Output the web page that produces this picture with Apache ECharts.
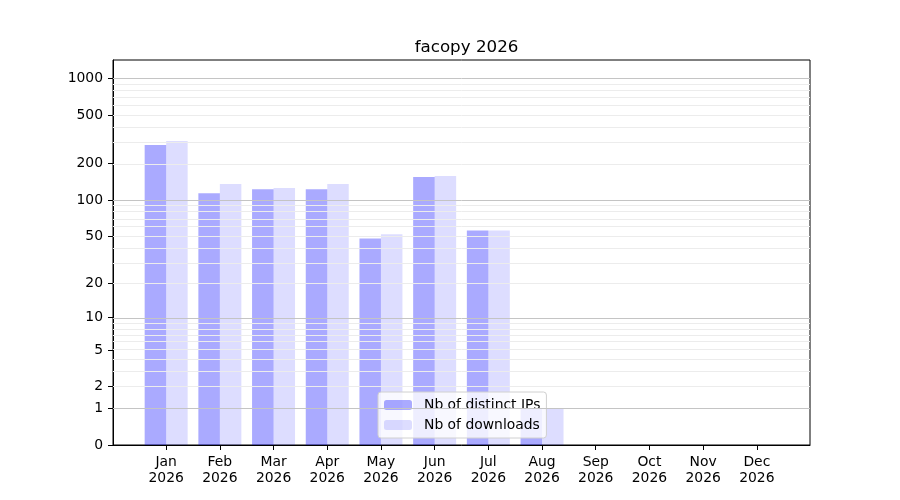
<!DOCTYPE html>
<html>
<head>
<meta charset="utf-8">
<script src="https://cdn.jsdelivr.net/npm/echarts@6/dist/echarts.min.js"></script>
<style>
  html, body { margin: 0; padding: 0; background: #fff; }
  #chart { width: 900px; height: 500px; }
</style>
</head>
<body>
<div id="chart"></div>
<script>
// data
var months = ['Jan', 'Feb', 'Mar', 'Apr', 'May', 'Jun', 'Jul', 'Aug', 'Sep', 'Oct', 'Nov', 'Dec'];
var year = '2026';
var distinctIPs = [284, 114, 123, 123, 48, 155, 56, 1, 0, 0, 0, 0];
var downloads = [306, 136, 126, 136, 52, 158, 56, 1, 0, 0, 0, 0];
var yTicks = [0, 1, 2, 5, 10, 20, 50, 100, 200, 500, 1000];
var majorGrid = [1, 10, 100, 1000];
var minorGrid = [2, 3, 4, 5, 6, 7, 8, 9, 20, 30, 40, 50, 60, 70, 80, 90, 200, 300, 400, 500, 600, 700, 800, 900];
var yMaxValue = 1414;

// y scale is log10(1 + v)
function sc(v) { return Math.log10(1 + v); }

var font = 'DejaVu Sans';
var myChart = echarts.init(document.getElementById('chart'));

function toPoints(arr) {
    return arr.map(function (v, i) { return [i, sc(v)]; });
}
function gridLines(arr, color) {
    return arr.map(function (v) {
        return { yAxis: sc(v), lineStyle: { color: color, width: 1, type: 'solid' } };
    });
}

var option = {
    animation: false,
    backgroundColor: '#fff',
    title: {
        text: 'facopy 2026',
        left: 461.5,
        top: 34,
        textAlign: 'center',
        textStyle: { fontFamily: font, fontSize: 16.7, fontWeight: 'normal', color: '#000' }
    },
    grid: {
        left: 113,
        right: 90,
        top: 60,
        bottom: 55,
        show: true,
        borderColor: '#000',
        borderWidth: 1,
        backgroundColor: 'transparent'
    },
    legend: {
        orient: 'vertical',
        left: 378,
        top: 392,
        itemWidth: 28,
        itemHeight: 10,
        itemGap: 6,
        padding: [6, 6, 6, 6],
        backgroundColor: 'rgba(255,255,255,0.8)',
        borderColor: '#d0d0d0',
        borderWidth: 1,
        borderRadius: 3,
        textStyle: { fontFamily: font, fontSize: 13.9, color: '#000', padding: [0, 0, 0, 7] },
        data: ['Nb of distinct IPs', 'Nb of downloads']
    },
    xAxis: {
        type: 'value',
        min: -0.99,
        max: 11.99,
        splitLine: { show: false },
        axisLine: { onZero: false, lineStyle: { color: '#000', width: 1 } },
        axisTick: {
            show: true,
            length: 5,
            customValues: months.map(function (m, i) { return i; }),
            lineStyle: { color: '#000' }
        },
        axisLabel: {
            customValues: months.map(function (m, i) { return i; }),
            margin: 9,
            fontFamily: font,
            fontSize: 13.9,
            lineHeight: 16,
            color: '#000',
            formatter: function (v) { return months[Math.round(v)] + '\n' + year; }
        }
    },
    yAxis: {
        type: 'value',
        min: 0,
        max: sc(yMaxValue),
        splitLine: { show: false },
        axisLine: { show: true, onZero: false, lineStyle: { color: '#000', width: 1 } },
        axisTick: {
            show: true,
            length: 5,
            customValues: yTicks.map(sc),
            lineStyle: { color: '#000' }
        },
        axisLabel: {
            customValues: yTicks.map(sc),
            margin: 10,
            fontFamily: font,
            fontSize: 13.9,
            color: '#000',
            formatter: function (v) { return String(Math.round(Math.pow(10, v) - 1)); }
        }
    },
    series: [{
        type: 'line',
        name: 'grid',
        data: [],
        z: 1,
        silent: true,
        markLine: {
            silent: true,
            symbol: 'none',
            label: { show: false },
            data: gridLines(minorGrid, '#ececec').concat(gridLines(majorGrid, '#c4c4c4'))
        }
    }, {
        type: 'bar',
        name: 'Nb of distinct IPs',
        z: 2,
        barWidth: 21.5,
        barGap: '0%',
        itemStyle: { color: 'rgba(0,0,255,0.333)' },
        data: toPoints(distinctIPs)
    }, {
        type: 'bar',
        name: 'Nb of downloads',
        z: 2,
        barWidth: 21.5,
        barGap: '0%',
        itemStyle: { color: 'rgba(0,0,255,0.133)' },
        data: toPoints(downloads)
    }]
};

myChart.setOption(option);
</script>
</body>
</html>
